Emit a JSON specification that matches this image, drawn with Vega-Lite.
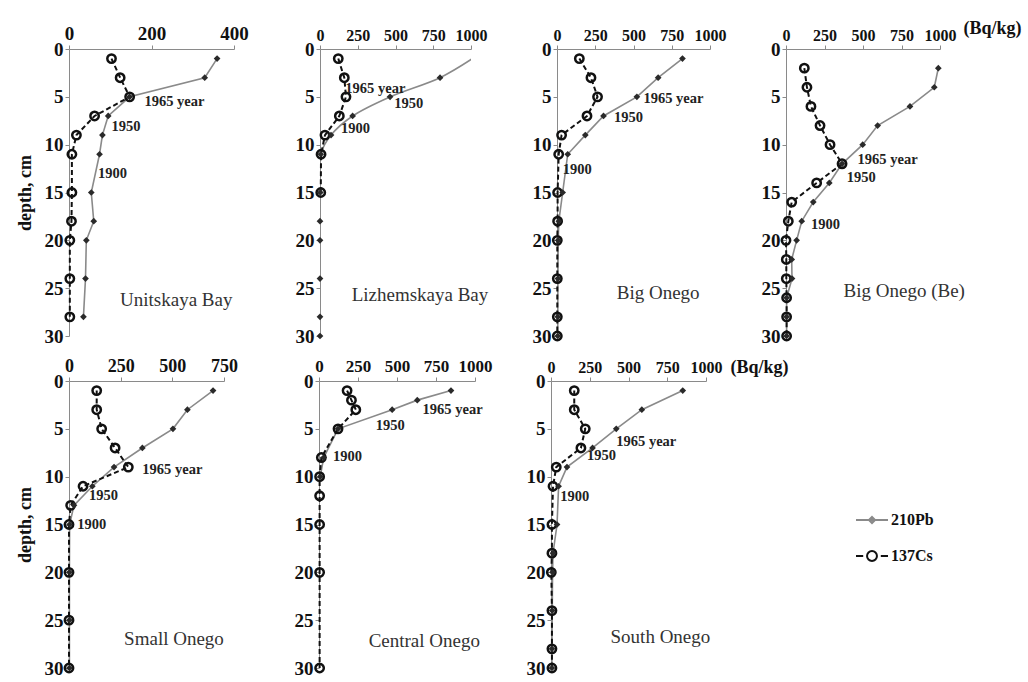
{
"$schema": "https://vega.github.io/schema/vega-lite/v6.json",
"background": "white",
"padding": {"left": 16, "top": 19, "right": 0, "bottom": 0},
"datasets": {
"profiles": [
{"panel":"Unitskaya Bay","isotope":"210Pb","depth":1,"value":359},
{"panel":"Unitskaya Bay","isotope":"210Pb","depth":3,"value":329},
{"panel":"Unitskaya Bay","isotope":"210Pb","depth":5,"value":147},
{"panel":"Unitskaya Bay","isotope":"210Pb","depth":7,"value":95},
{"panel":"Unitskaya Bay","isotope":"210Pb","depth":9,"value":81},
{"panel":"Unitskaya Bay","isotope":"210Pb","depth":11,"value":74},
{"panel":"Unitskaya Bay","isotope":"210Pb","depth":15,"value":54},
{"panel":"Unitskaya Bay","isotope":"210Pb","depth":18,"value":60},
{"panel":"Unitskaya Bay","isotope":"210Pb","depth":20,"value":42},
{"panel":"Unitskaya Bay","isotope":"210Pb","depth":24,"value":40},
{"panel":"Unitskaya Bay","isotope":"210Pb","depth":28,"value":35},
{"panel":"Unitskaya Bay","isotope":"137Cs","depth":1,"value":103},
{"panel":"Unitskaya Bay","isotope":"137Cs","depth":3,"value":124},
{"panel":"Unitskaya Bay","isotope":"137Cs","depth":5,"value":147},
{"panel":"Unitskaya Bay","isotope":"137Cs","depth":7,"value":62},
{"panel":"Unitskaya Bay","isotope":"137Cs","depth":9,"value":18},
{"panel":"Unitskaya Bay","isotope":"137Cs","depth":11,"value":7},
{"panel":"Unitskaya Bay","isotope":"137Cs","depth":15,"value":7},
{"panel":"Unitskaya Bay","isotope":"137Cs","depth":18,"value":6},
{"panel":"Unitskaya Bay","isotope":"137Cs","depth":20,"value":2},
{"panel":"Unitskaya Bay","isotope":"137Cs","depth":24,"value":2},
{"panel":"Unitskaya Bay","isotope":"137Cs","depth":28,"value":2},
{"panel":"Lizhemskaya Bay","isotope":"210Pb","depth":1,"value":1010},
{"panel":"Lizhemskaya Bay","isotope":"210Pb","depth":3,"value":795},
{"panel":"Lizhemskaya Bay","isotope":"210Pb","depth":5,"value":464},
{"panel":"Lizhemskaya Bay","isotope":"210Pb","depth":7,"value":216},
{"panel":"Lizhemskaya Bay","isotope":"210Pb","depth":9,"value":73},
{"panel":"Lizhemskaya Bay","isotope":"210Pb","depth":11,"value":5},
{"panel":"Lizhemskaya Bay","isotope":"210Pb","depth":15,"value":2},
{"panel":"Lizhemskaya Bay","isotope":"210Pb","depth":18,"value":0},
{"panel":"Lizhemskaya Bay","isotope":"210Pb","depth":20,"value":0},
{"panel":"Lizhemskaya Bay","isotope":"210Pb","depth":24,"value":0},
{"panel":"Lizhemskaya Bay","isotope":"210Pb","depth":28,"value":0},
{"panel":"Lizhemskaya Bay","isotope":"210Pb","depth":30,"value":0},
{"panel":"Lizhemskaya Bay","isotope":"137Cs","depth":1,"value":121},
{"panel":"Lizhemskaya Bay","isotope":"137Cs","depth":3,"value":161},
{"panel":"Lizhemskaya Bay","isotope":"137Cs","depth":5,"value":172},
{"panel":"Lizhemskaya Bay","isotope":"137Cs","depth":7,"value":128},
{"panel":"Lizhemskaya Bay","isotope":"137Cs","depth":9,"value":33},
{"panel":"Lizhemskaya Bay","isotope":"137Cs","depth":11,"value":7},
{"panel":"Lizhemskaya Bay","isotope":"137Cs","depth":15,"value":5},
{"panel":"Big Onego","isotope":"210Pb","depth":1,"value":820},
{"panel":"Big Onego","isotope":"210Pb","depth":3,"value":661},
{"panel":"Big Onego","isotope":"210Pb","depth":5,"value":522},
{"panel":"Big Onego","isotope":"210Pb","depth":7,"value":304},
{"panel":"Big Onego","isotope":"210Pb","depth":9,"value":185},
{"panel":"Big Onego","isotope":"210Pb","depth":11,"value":70},
{"panel":"Big Onego","isotope":"210Pb","depth":15,"value":37},
{"panel":"Big Onego","isotope":"210Pb","depth":18,"value":12},
{"panel":"Big Onego","isotope":"210Pb","depth":20,"value":8},
{"panel":"Big Onego","isotope":"210Pb","depth":24,"value":6},
{"panel":"Big Onego","isotope":"210Pb","depth":28,"value":5},
{"panel":"Big Onego","isotope":"210Pb","depth":30,"value":5},
{"panel":"Big Onego","isotope":"137Cs","depth":1,"value":146},
{"panel":"Big Onego","isotope":"137Cs","depth":3,"value":222},
{"panel":"Big Onego","isotope":"137Cs","depth":5,"value":265},
{"panel":"Big Onego","isotope":"137Cs","depth":7,"value":196},
{"panel":"Big Onego","isotope":"137Cs","depth":9,"value":30},
{"panel":"Big Onego","isotope":"137Cs","depth":11,"value":11},
{"panel":"Big Onego","isotope":"137Cs","depth":15,"value":4},
{"panel":"Big Onego","isotope":"137Cs","depth":18,"value":4},
{"panel":"Big Onego","isotope":"137Cs","depth":20,"value":2},
{"panel":"Big Onego","isotope":"137Cs","depth":24,"value":2},
{"panel":"Big Onego","isotope":"137Cs","depth":28,"value":2},
{"panel":"Big Onego","isotope":"137Cs","depth":30,"value":2},
{"panel":"Big Onego (Be)","isotope":"210Pb","depth":2,"value":989},
{"panel":"Big Onego (Be)","isotope":"210Pb","depth":4,"value":963},
{"panel":"Big Onego (Be)","isotope":"210Pb","depth":6,"value":805},
{"panel":"Big Onego (Be)","isotope":"210Pb","depth":8,"value":595},
{"panel":"Big Onego (Be)","isotope":"210Pb","depth":10,"value":498},
{"panel":"Big Onego (Be)","isotope":"210Pb","depth":12,"value":364},
{"panel":"Big Onego (Be)","isotope":"210Pb","depth":14,"value":281},
{"panel":"Big Onego (Be)","isotope":"210Pb","depth":16,"value":177},
{"panel":"Big Onego (Be)","isotope":"210Pb","depth":18,"value":102},
{"panel":"Big Onego (Be)","isotope":"210Pb","depth":20,"value":69},
{"panel":"Big Onego (Be)","isotope":"210Pb","depth":22,"value":37},
{"panel":"Big Onego (Be)","isotope":"210Pb","depth":24,"value":39},
{"panel":"Big Onego (Be)","isotope":"210Pb","depth":26,"value":4},
{"panel":"Big Onego (Be)","isotope":"210Pb","depth":28,"value":4},
{"panel":"Big Onego (Be)","isotope":"210Pb","depth":30,"value":4},
{"panel":"Big Onego (Be)","isotope":"137Cs","depth":2,"value":119},
{"panel":"Big Onego (Be)","isotope":"137Cs","depth":4,"value":136},
{"panel":"Big Onego (Be)","isotope":"137Cs","depth":6,"value":162},
{"panel":"Big Onego (Be)","isotope":"137Cs","depth":8,"value":221},
{"panel":"Big Onego (Be)","isotope":"137Cs","depth":10,"value":286},
{"panel":"Big Onego (Be)","isotope":"137Cs","depth":12,"value":364},
{"panel":"Big Onego (Be)","isotope":"137Cs","depth":14,"value":199},
{"panel":"Big Onego (Be)","isotope":"137Cs","depth":16,"value":37},
{"panel":"Big Onego (Be)","isotope":"137Cs","depth":18,"value":15},
{"panel":"Big Onego (Be)","isotope":"137Cs","depth":20,"value":0},
{"panel":"Big Onego (Be)","isotope":"137Cs","depth":22,"value":2},
{"panel":"Big Onego (Be)","isotope":"137Cs","depth":24,"value":2},
{"panel":"Big Onego (Be)","isotope":"137Cs","depth":26,"value":4},
{"panel":"Big Onego (Be)","isotope":"137Cs","depth":28,"value":4},
{"panel":"Big Onego (Be)","isotope":"137Cs","depth":30,"value":4},
{"panel":"Small Onego","isotope":"210Pb","depth":1,"value":697},
{"panel":"Small Onego","isotope":"210Pb","depth":3,"value":573},
{"panel":"Small Onego","isotope":"210Pb","depth":5,"value":503},
{"panel":"Small Onego","isotope":"210Pb","depth":7,"value":355},
{"panel":"Small Onego","isotope":"210Pb","depth":9,"value":218},
{"panel":"Small Onego","isotope":"210Pb","depth":11,"value":113},
{"panel":"Small Onego","isotope":"210Pb","depth":13,"value":24},
{"panel":"Small Onego","isotope":"210Pb","depth":15,"value":3},
{"panel":"Small Onego","isotope":"210Pb","depth":20,"value":2},
{"panel":"Small Onego","isotope":"210Pb","depth":25,"value":2},
{"panel":"Small Onego","isotope":"210Pb","depth":30,"value":2},
{"panel":"Small Onego","isotope":"137Cs","depth":1,"value":134},
{"panel":"Small Onego","isotope":"137Cs","depth":3,"value":134},
{"panel":"Small Onego","isotope":"137Cs","depth":5,"value":158},
{"panel":"Small Onego","isotope":"137Cs","depth":7,"value":223},
{"panel":"Small Onego","isotope":"137Cs","depth":9,"value":287},
{"panel":"Small Onego","isotope":"137Cs","depth":11,"value":68},
{"panel":"Small Onego","isotope":"137Cs","depth":13,"value":8},
{"panel":"Small Onego","isotope":"137Cs","depth":15,"value":0},
{"panel":"Small Onego","isotope":"137Cs","depth":20,"value":0},
{"panel":"Small Onego","isotope":"137Cs","depth":25,"value":0},
{"panel":"Small Onego","isotope":"137Cs","depth":30,"value":0},
{"panel":"Central Onego","isotope":"210Pb","depth":1,"value":846},
{"panel":"Central Onego","isotope":"210Pb","depth":2,"value":630},
{"panel":"Central Onego","isotope":"210Pb","depth":3,"value":469},
{"panel":"Central Onego","isotope":"210Pb","depth":5,"value":122},
{"panel":"Central Onego","isotope":"210Pb","depth":8,"value":30},
{"panel":"Central Onego","isotope":"210Pb","depth":10,"value":8},
{"panel":"Central Onego","isotope":"137Cs","depth":1,"value":180},
{"panel":"Central Onego","isotope":"137Cs","depth":2,"value":208},
{"panel":"Central Onego","isotope":"137Cs","depth":3,"value":236},
{"panel":"Central Onego","isotope":"137Cs","depth":5,"value":122},
{"panel":"Central Onego","isotope":"137Cs","depth":8,"value":15},
{"panel":"Central Onego","isotope":"137Cs","depth":10,"value":4},
{"panel":"Central Onego","isotope":"137Cs","depth":12,"value":4},
{"panel":"Central Onego","isotope":"137Cs","depth":15,"value":4},
{"panel":"Central Onego","isotope":"137Cs","depth":20,"value":4},
{"panel":"Central Onego","isotope":"137Cs","depth":30,"value":4},
{"panel":"South Onego","isotope":"210Pb","depth":1,"value":850},
{"panel":"South Onego","isotope":"210Pb","depth":3,"value":586},
{"panel":"South Onego","isotope":"210Pb","depth":5,"value":421},
{"panel":"South Onego","isotope":"210Pb","depth":7,"value":268},
{"panel":"South Onego","isotope":"210Pb","depth":9,"value":103},
{"panel":"South Onego","isotope":"210Pb","depth":11,"value":49},
{"panel":"South Onego","isotope":"210Pb","depth":15,"value":39},
{"panel":"South Onego","isotope":"210Pb","depth":18,"value":13},
{"panel":"South Onego","isotope":"210Pb","depth":20,"value":10},
{"panel":"South Onego","isotope":"210Pb","depth":24,"value":8},
{"panel":"South Onego","isotope":"210Pb","depth":28,"value":6},
{"panel":"South Onego","isotope":"210Pb","depth":30,"value":6},
{"panel":"South Onego","isotope":"137Cs","depth":1,"value":150},
{"panel":"South Onego","isotope":"137Cs","depth":3,"value":150},
{"panel":"South Onego","isotope":"137Cs","depth":5,"value":221},
{"panel":"South Onego","isotope":"137Cs","depth":7,"value":193},
{"panel":"South Onego","isotope":"137Cs","depth":9,"value":34},
{"panel":"South Onego","isotope":"137Cs","depth":11,"value":13},
{"panel":"South Onego","isotope":"137Cs","depth":15,"value":6},
{"panel":"South Onego","isotope":"137Cs","depth":18,"value":6},
{"panel":"South Onego","isotope":"137Cs","depth":20,"value":2},
{"panel":"South Onego","isotope":"137Cs","depth":24,"value":6},
{"panel":"South Onego","isotope":"137Cs","depth":28,"value":6},
{"panel":"South Onego","isotope":"137Cs","depth":30,"value":6}
],
"notes": [
{"panel":"Unitskaya Bay","kind":"year","label":"1965 year","value":183,"depth":5.5},
{"panel":"Unitskaya Bay","kind":"year","label":"1950","value":103,"depth":8.2},
{"panel":"Unitskaya Bay","kind":"year","label":"1900","value":70,"depth":13.1},
{"panel":"Unitskaya Bay","kind":"site","label":"Unitskaya Bay","value":260,"depth":26.2},
{"panel":"Lizhemskaya Bay","kind":"year","label":"1965 year","value":168,"depth":4.2},
{"panel":"Lizhemskaya Bay","kind":"year","label":"1950","value":492,"depth":5.7},
{"panel":"Lizhemskaya Bay","kind":"year","label":"1900","value":139,"depth":8.4},
{"panel":"Lizhemskaya Bay","kind":"site","label":"Lizhemskaya Bay","value":662,"depth":25.7},
{"panel":"Big Onego","kind":"year","label":"1965 year","value":565,"depth":5.2},
{"panel":"Big Onego","kind":"year","label":"1950","value":372,"depth":7.2},
{"panel":"Big Onego","kind":"year","label":"1900","value":37,"depth":12.6},
{"panel":"Big Onego","kind":"site","label":"Big Onego","value":661,"depth":25.5},
{"panel":"Big Onego (Be)","kind":"year","label":"1965 year","value":465,"depth":11.6},
{"panel":"Big Onego (Be)","kind":"year","label":"1950","value":394,"depth":13.5},
{"panel":"Big Onego (Be)","kind":"year","label":"1900","value":162,"depth":18.4},
{"panel":"Big Onego (Be)","kind":"site","label":"Big Onego (Be)","value":768,"depth":25.3},
{"panel":"Small Onego","kind":"year","label":"1965 year","value":355,"depth":9.3},
{"panel":"Small Onego","kind":"year","label":"1950","value":97,"depth":12},
{"panel":"Small Onego","kind":"year","label":"1900","value":40,"depth":15},
{"panel":"Small Onego","kind":"site","label":"Small Onego","value":508,"depth":27},
{"panel":"Central Onego","kind":"year","label":"1965 year","value":664,"depth":3},
{"panel":"Central Onego","kind":"year","label":"1950","value":364,"depth":4.7},
{"panel":"Central Onego","kind":"year","label":"1900","value":90,"depth":7.9},
{"panel":"Central Onego","kind":"site","label":"Central Onego","value":675,"depth":27.2},
{"panel":"South Onego","kind":"year","label":"1965 year","value":421,"depth":6.4},
{"panel":"South Onego","kind":"year","label":"1950","value":232,"depth":7.8},
{"panel":"South Onego","kind":"year","label":"1900","value":60,"depth":12.1},
{"panel":"South Onego","kind":"site","label":"South Onego","value":706,"depth":26.8}
]
},
"vconcat": [
{"hconcat": [
 {"width":165,"height":287,
  "encoding":{"x":{"field":"value","type":"quantitative","scale":{"domain":[0,400],"nice":false},"axis":{"orient":"top","values":[0,200,400],"format":"d","labelFontSize":19,"title":null}},
   "y":{"field":"depth","type":"quantitative","scale":{"domain":[0,30],"reverse":true,"nice":false},"axis":{"values":[0,5,10,15,20,25,30],"title":"depth, cm"}}},
  "layer":[
   {"data":{"name":"profiles"},"transform":[{"filter":"datum.panel === 'Unitskaya Bay' && datum.isotope === '210Pb'"}],"mark":{"type":"line","color":"#8a8a8a","strokeWidth":1.6},"encoding":{"order":{"field":"depth","type":"quantitative"}}},
   {"data":{"name":"profiles"},"transform":[{"filter":"datum.panel === 'Unitskaya Bay' && datum.isotope === '137Cs'"}],"mark":{"type":"line","color":"#111","strokeWidth":2,"strokeDash":[5,3]},"encoding":{"order":{"field":"depth","type":"quantitative"}}},
   {"data":{"name":"profiles"},"transform":[{"filter":"datum.panel === 'Unitskaya Bay' && datum.isotope === '137Cs'"}],"mark":{"type":"point","shape":"circle","filled":false,"color":"#111","strokeWidth":2.5,"size":70,"opacity":1}},
   {"data":{"name":"profiles"},"transform":[{"filter":"datum.panel === 'Unitskaya Bay' && datum.isotope === '210Pb'"}],"mark":{"type":"point","shape":"diamond","filled":true,"color":"#2a2a2a","size":45,"opacity":1}},
   {"data":{"name":"notes"},"transform":[{"filter":"datum.panel === 'Unitskaya Bay' && datum.kind === 'year'"}],"mark":{"type":"text","align":"left","baseline":"middle","font":"Liberation Serif","fontSize":14.5,"fontWeight":"bold","color":"#222"},"encoding":{"text":{"field":"label"}}},
   {"data":{"name":"notes"},"transform":[{"filter":"datum.panel === 'Unitskaya Bay' && datum.kind === 'site'"}],"mark":{"type":"text","align":"center","baseline":"middle","font":"Liberation Serif","fontSize":19,"color":"#333"},"encoding":{"text":{"field":"label"}}}
  ]},
 {"hconcat": [
  {"width":151,"height":287,
   "encoding":{"x":{"field":"value","type":"quantitative","scale":{"domain":[0,1000],"nice":false},"axis":{"orient":"top","values":[0,250,500,750,1000],"format":"d","title":null}},
    "y":{"field":"depth","type":"quantitative","scale":{"domain":[0,30],"reverse":true,"nice":false},"axis":{"values":[0,5,10,15,20,25,30],"title":null}}},
   "layer":[
    {"data":{"name":"profiles"},"transform":[{"filter":"datum.panel === 'Lizhemskaya Bay' && datum.isotope === '210Pb'"}],"mark":{"type":"line","color":"#8a8a8a","strokeWidth":1.6,"clip":true,"interpolate":"catmull-rom"},"encoding":{"order":{"field":"depth","type":"quantitative"}}},
    {"data":{"name":"profiles"},"transform":[{"filter":"datum.panel === 'Lizhemskaya Bay' && datum.isotope === '137Cs'"}],"mark":{"type":"line","color":"#111","strokeWidth":2,"strokeDash":[5,3]},"encoding":{"order":{"field":"depth","type":"quantitative"}}},
    {"data":{"name":"profiles"},"transform":[{"filter":"datum.panel === 'Lizhemskaya Bay' && datum.isotope === '137Cs'"}],"mark":{"type":"point","shape":"circle","filled":false,"color":"#111","strokeWidth":2.5,"size":70,"opacity":1}},
    {"data":{"name":"profiles"},"transform":[{"filter":"datum.panel === 'Lizhemskaya Bay' && datum.isotope === '210Pb' && datum.value <= 1000"}],"mark":{"type":"point","shape":"diamond","filled":true,"color":"#2a2a2a","size":45,"opacity":1}},
    {"data":{"name":"notes"},"transform":[{"filter":"datum.panel === 'Lizhemskaya Bay' && datum.kind === 'year'"}],"mark":{"type":"text","align":"left","baseline":"middle","font":"Liberation Serif","fontSize":14.5,"fontWeight":"bold","color":"#222"},"encoding":{"text":{"field":"label"}}},
    {"data":{"name":"notes"},"transform":[{"filter":"datum.panel === 'Lizhemskaya Bay' && datum.kind === 'site'"}],"mark":{"type":"text","align":"center","baseline":"middle","font":"Liberation Serif","fontSize":19,"color":"#333"},"encoding":{"text":{"field":"label"}}}
   ]},
  {"hconcat": [
   {"width":153,"height":287,
    "encoding":{"x":{"field":"value","type":"quantitative","scale":{"domain":[0,1000],"nice":false},"axis":{"orient":"top","values":[0,250,500,750,1000],"format":"d","title":null}},
     "y":{"field":"depth","type":"quantitative","scale":{"domain":[0,30],"reverse":true,"nice":false},"axis":{"values":[0,5,10,15,20,25,30],"title":null}}},
    "layer":[
     {"data":{"name":"profiles"},"transform":[{"filter":"datum.panel === 'Big Onego' && datum.isotope === '210Pb'"}],"mark":{"type":"line","color":"#8a8a8a","strokeWidth":1.6},"encoding":{"order":{"field":"depth","type":"quantitative"}}},
     {"data":{"name":"profiles"},"transform":[{"filter":"datum.panel === 'Big Onego' && datum.isotope === '137Cs'"}],"mark":{"type":"line","color":"#111","strokeWidth":2,"strokeDash":[5,3]},"encoding":{"order":{"field":"depth","type":"quantitative"}}},
     {"data":{"name":"profiles"},"transform":[{"filter":"datum.panel === 'Big Onego' && datum.isotope === '137Cs'"}],"mark":{"type":"point","shape":"circle","filled":false,"color":"#111","strokeWidth":2.5,"size":70,"opacity":1}},
     {"data":{"name":"profiles"},"transform":[{"filter":"datum.panel === 'Big Onego' && datum.isotope === '210Pb'"}],"mark":{"type":"point","shape":"diamond","filled":true,"color":"#2a2a2a","size":45,"opacity":1}},
     {"data":{"name":"notes"},"transform":[{"filter":"datum.panel === 'Big Onego' && datum.kind === 'year'"}],"mark":{"type":"text","align":"left","baseline":"middle","font":"Liberation Serif","fontSize":14.5,"fontWeight":"bold","color":"#222"},"encoding":{"text":{"field":"label"}}},
     {"data":{"name":"notes"},"transform":[{"filter":"datum.panel === 'Big Onego' && datum.kind === 'site'"}],"mark":{"type":"text","align":"center","baseline":"middle","font":"Liberation Serif","fontSize":19,"color":"#333"},"encoding":{"text":{"field":"label"}}}
    ]},
   {"width":154,"height":287,
    "encoding":{"x":{"field":"value","type":"quantitative","scale":{"domain":[0,1000],"nice":false},"axis":{"orient":"top","values":[0,250,500,750,1000],"format":"d","title":"(Bq/kg)","titleX":177,"titleY":-21,"titleAlign":"left","titleBaseline":"middle","titleAngle":0}},
     "y":{"field":"depth","type":"quantitative","scale":{"domain":[0,30],"reverse":true,"nice":false},"axis":{"values":[0,5,10,15,20,25,30],"title":null}}},
    "layer":[
     {"data":{"name":"profiles"},"transform":[{"filter":"datum.panel === 'Big Onego (Be)' && datum.isotope === '210Pb'"}],"mark":{"type":"line","color":"#8a8a8a","strokeWidth":1.6},"encoding":{"order":{"field":"depth","type":"quantitative"}}},
     {"data":{"name":"profiles"},"transform":[{"filter":"datum.panel === 'Big Onego (Be)' && datum.isotope === '137Cs'"}],"mark":{"type":"line","color":"#111","strokeWidth":2,"strokeDash":[5,3]},"encoding":{"order":{"field":"depth","type":"quantitative"}}},
     {"data":{"name":"profiles"},"transform":[{"filter":"datum.panel === 'Big Onego (Be)' && datum.isotope === '137Cs'"}],"mark":{"type":"point","shape":"circle","filled":false,"color":"#111","strokeWidth":2.5,"size":70,"opacity":1}},
     {"data":{"name":"profiles"},"transform":[{"filter":"datum.panel === 'Big Onego (Be)' && datum.isotope === '210Pb'"}],"mark":{"type":"point","shape":"diamond","filled":true,"color":"#2a2a2a","size":45,"opacity":1}},
     {"data":{"name":"notes"},"transform":[{"filter":"datum.panel === 'Big Onego (Be)' && datum.kind === 'year'"}],"mark":{"type":"text","align":"left","baseline":"middle","font":"Liberation Serif","fontSize":14.5,"fontWeight":"bold","color":"#222"},"encoding":{"text":{"field":"label"}}},
     {"data":{"name":"notes"},"transform":[{"filter":"datum.panel === 'Big Onego (Be)' && datum.kind === 'site'"}],"mark":{"type":"text","align":"center","baseline":"middle","font":"Liberation Serif","fontSize":19,"color":"#333"},"encoding":{"text":{"field":"label"}}}
    ]}
  ], "spacing": 35}
 ], "spacing": 43}
], "spacing": 46},
{"hconcat": [
 {"width":155,"height":287,
  "encoding":{"x":{"field":"value","type":"quantitative","scale":{"domain":[0,750],"nice":false},"axis":{"orient":"top","values":[0,250,500,750],"format":"d","labelFontSize":18,"title":null}},
   "y":{"field":"depth","type":"quantitative","scale":{"domain":[0,30],"reverse":true,"nice":false},"axis":{"values":[0,5,10,15,20,25,30],"title":"depth, cm"}}},
  "layer":[
   {"data":{"name":"profiles"},"transform":[{"filter":"datum.panel === 'Small Onego' && datum.isotope === '210Pb'"}],"mark":{"type":"line","color":"#8a8a8a","strokeWidth":1.6},"encoding":{"order":{"field":"depth","type":"quantitative"}}},
   {"data":{"name":"profiles"},"transform":[{"filter":"datum.panel === 'Small Onego' && datum.isotope === '137Cs'"}],"mark":{"type":"line","color":"#111","strokeWidth":2,"strokeDash":[5,3]},"encoding":{"order":{"field":"depth","type":"quantitative"}}},
   {"data":{"name":"profiles"},"transform":[{"filter":"datum.panel === 'Small Onego' && datum.isotope === '137Cs'"}],"mark":{"type":"point","shape":"circle","filled":false,"color":"#111","strokeWidth":2.5,"size":70,"opacity":1}},
   {"data":{"name":"profiles"},"transform":[{"filter":"datum.panel === 'Small Onego' && datum.isotope === '210Pb'"}],"mark":{"type":"point","shape":"diamond","filled":true,"color":"#2a2a2a","size":45,"opacity":1}},
   {"data":{"name":"notes"},"transform":[{"filter":"datum.panel === 'Small Onego' && datum.kind === 'year'"}],"mark":{"type":"text","align":"left","baseline":"middle","font":"Liberation Serif","fontSize":14.5,"fontWeight":"bold","color":"#222"},"encoding":{"text":{"field":"label"}}},
   {"data":{"name":"notes"},"transform":[{"filter":"datum.panel === 'Small Onego' && datum.kind === 'site'"}],"mark":{"type":"text","align":"center","baseline":"middle","font":"Liberation Serif","fontSize":19,"color":"#333"},"encoding":{"text":{"field":"label"}}}
  ]},
 {"hconcat": [
  {"width":156,"height":287,
   "encoding":{"x":{"field":"value","type":"quantitative","scale":{"domain":[0,1000],"nice":false},"axis":{"orient":"top","values":[0,250,500,750,1000],"format":"d","labelFontSize":17,"title":null}},
    "y":{"field":"depth","type":"quantitative","scale":{"domain":[0,30],"reverse":true,"nice":false},"axis":{"values":[0,5,10,15,20,25,30],"title":null}}},
   "layer":[
    {"data":{"name":"profiles"},"transform":[{"filter":"datum.panel === 'Central Onego' && datum.isotope === '210Pb'"}],"mark":{"type":"line","color":"#8a8a8a","strokeWidth":1.6},"encoding":{"order":{"field":"depth","type":"quantitative"}}},
    {"data":{"name":"profiles"},"transform":[{"filter":"datum.panel === 'Central Onego' && datum.isotope === '137Cs'"}],"mark":{"type":"line","color":"#111","strokeWidth":2,"strokeDash":[5,3]},"encoding":{"order":{"field":"depth","type":"quantitative"}}},
    {"data":{"name":"profiles"},"transform":[{"filter":"datum.panel === 'Central Onego' && datum.isotope === '137Cs'"}],"mark":{"type":"point","shape":"circle","filled":false,"color":"#111","strokeWidth":2.5,"size":70,"opacity":1}},
    {"data":{"name":"profiles"},"transform":[{"filter":"datum.panel === 'Central Onego' && datum.isotope === '210Pb'"}],"mark":{"type":"point","shape":"diamond","filled":true,"color":"#2a2a2a","size":45,"opacity":1}},
    {"data":{"name":"notes"},"transform":[{"filter":"datum.panel === 'Central Onego' && datum.kind === 'year'"}],"mark":{"type":"text","align":"left","baseline":"middle","font":"Liberation Serif","fontSize":14.5,"fontWeight":"bold","color":"#222"},"encoding":{"text":{"field":"label"}}},
    {"data":{"name":"notes"},"transform":[{"filter":"datum.panel === 'Central Onego' && datum.kind === 'site'"}],"mark":{"type":"text","align":"center","baseline":"middle","font":"Liberation Serif","fontSize":19,"color":"#333"},"encoding":{"text":{"field":"label"}}}
   ]},
  {"width":155,"height":287,
   "encoding":{"x":{"field":"value","type":"quantitative","scale":{"domain":[0,1000],"nice":false},"axis":{"orient":"top","values":[0,250,500,750,1000],"format":"d","title":"(Bq/kg)","titleX":179,"titleY":-14,"titleAlign":"left","titleBaseline":"middle","titleAngle":0}},
    "y":{"field":"depth","type":"quantitative","scale":{"domain":[0,30],"reverse":true,"nice":false},"axis":{"values":[0,5,10,15,20,25,30],"title":null}}},
   "layer":[
    {"data":{"name":"profiles"},"transform":[{"filter":"datum.panel === 'South Onego' && datum.isotope === '210Pb'"}],"mark":{"type":"line","color":"#8a8a8a","strokeWidth":1.6},"encoding":{"order":{"field":"depth","type":"quantitative"}}},
    {"data":{"name":"profiles"},"transform":[{"filter":"datum.panel === 'South Onego' && datum.isotope === '137Cs'"}],"mark":{"type":"line","color":"#111","strokeWidth":2,"strokeDash":[5,3]},"encoding":{"order":{"field":"depth","type":"quantitative"}}},
    {"data":{"name":"profiles"},"transform":[{"filter":"datum.panel === 'South Onego' && datum.isotope === '137Cs'"}],"mark":{"type":"point","shape":"circle","filled":false,"color":"#111","strokeWidth":2.5,"size":70,"opacity":1}},
    {"data":{"name":"profiles"},"transform":[{"filter":"datum.panel === 'South Onego' && datum.isotope === '210Pb'"}],"mark":{"type":"point","shape":"diamond","filled":true,"color":"#2a2a2a","size":45,"opacity":1}},
    {"data":{"name":"notes"},"transform":[{"filter":"datum.panel === 'South Onego' && datum.kind === 'year'"}],"mark":{"type":"text","align":"left","baseline":"middle","font":"Liberation Serif","fontSize":14.5,"fontWeight":"bold","color":"#222"},"encoding":{"text":{"field":"label"}}},
    {"data":{"name":"notes"},"transform":[{"filter":"datum.panel === 'South Onego' && datum.kind === 'site'"}],"mark":{"type":"text","align":"center","baseline":"middle","font":"Liberation Serif","fontSize":19,"color":"#333"},"encoding":{"text":{"field":"label"}}},
    {"data":{"name":"profiles"},"transform":[{"filter":"false"}],"mark":{"type":"point","filled":false,"strokeWidth":2,"size":1024,"opacity":1},
     "encoding":{
      "shape":{"field":"isotope","type":"nominal","scale":{"domain":["210Pb","137Cs"],"range":["M-1,0H1M0,-0.19L0.19,0L0,0.19L-0.19,0Z","M-1,0H-0.55M0.55,0H1M0.31,0A0.31,0.31,0,1,1,-0.31,0A0.31,0.31,0,1,1,0.31,0"]},
       "legend":{"orient":"none","legendX":786,"legendY":454,"title":null,"labelFont":"Liberation Serif","labelFontSize":16,"labelFontWeight":"bold","labelColor":"#111","symbolSize":1024,"symbolStrokeWidth":2,"labelOffset":2,"rowPadding":11}},
      "color":{"field":"isotope","type":"nominal","scale":{"domain":["210Pb","137Cs"],"range":["#8a8a8a","#111"]},
       "legend":{"orient":"none","legendX":786,"legendY":454,"title":null,"labelFont":"Liberation Serif","labelFontSize":16,"labelFontWeight":"bold","labelColor":"#111","symbolSize":1024,"symbolStrokeWidth":2,"labelOffset":2,"rowPadding":11}}
     }}
   ]}
 ], "spacing": 34}
], "spacing": 56}
],
"spacing": 11,
"config": {
 "view": {"stroke": null},
 "axis": {"grid": false, "labelFont": "Liberation Serif", "labelFontWeight": "bold", "labelFontSize": 16, "labelColor": "#111", "domainColor": "#8a8a8a", "tickColor": "#8a8a8a", "tickSize": 4, "titleFont": "Liberation Serif", "titleFontWeight": "bold", "titleFontSize": 18, "titleColor": "#111", "labelFlush": false, "labelOverlap": false, "labelPadding": 2},
 "axisY": {"labelFontSize": 19, "titlePadding": 10}
}
}
